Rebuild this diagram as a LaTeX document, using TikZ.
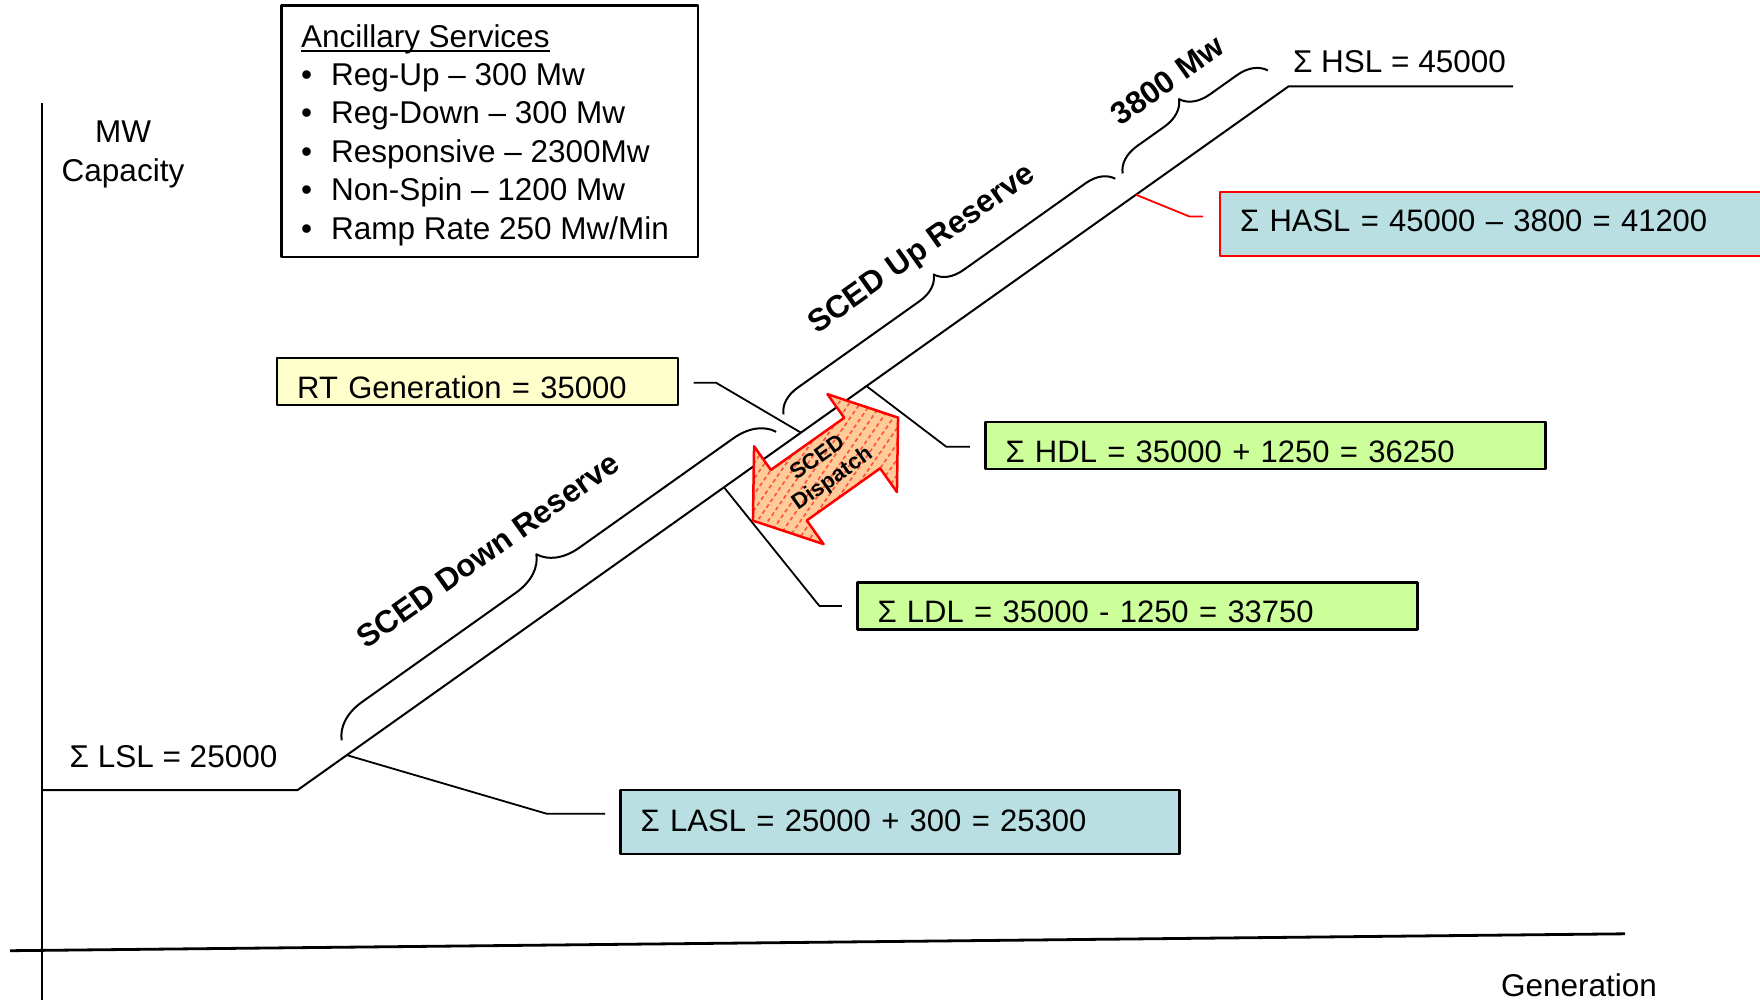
\documentclass[tikz,border=0pt]{standalone}
\usepackage{fontspec}
\setmainfont{Liberation Sans}
\usetikzlibrary{decorations.pathreplacing}
\definecolor{tealbox}{RGB}{185,223,226}
\definecolor{yelbox}{RGB}{255,255,204}
\definecolor{grnbox}{RGB}{204,255,153}
\definecolor{peach}{RGB}{255,204,153}
\newcommand\myul[1]{\setbox0\hbox{#1}\rlap{\rule[-4.5pt]{\wd0}{2pt}}\box0}
\begin{document}
\begin{tikzpicture}[x=1pt,y=-1pt,line join=round,
  every node/.style={inner sep=0pt,outer sep=0pt},
  txt/.style={font=\fontsize{31.5}{38.4}\selectfont},
  bld/.style={font=\fontsize{31.5}{38.4}\selectfont\bfseries},
  box/.style={draw,line width=2.5pt,anchor=north west,inner xsep=20pt,inner ysep=0pt,align=left,font=\fontsize{31}{38.4}\selectfont},
  ln/.style={line width=2pt},
  ldr/.style={line width=1.8pt},
  brc/.style={line width=2pt,decorate}]
\useasboundingbox (0,0) rectangle (1760,1000);

% axes
\coordinate (ytop) at (41.5,103);
\coordinate (ybot) at (41.5,1000);
\draw[ln] (ytop) -- (ybot);
\coordinate (xl) at (10,950.7);
\coordinate (xr) at (1625,933.8);
\draw[line width=2.8pt] (xl) -- (xr);
\node[txt,align=center] (mw) at (123,154.5) {MW\\Capacity};
\node[txt] (gen) at (1579,985) {Generation};

% ancillary services box
\node[draw,line width=2.5pt,anchor=north west,minimum width=416.4pt,minimum height=251.4pt] (anc) at (281.7,5.6) {};
\node[txt,anchor=base west] (anctxt) at (301,47.2) {\begin{tabular}[t]{@{}l@{\hspace{19pt}}l@{}}
\multicolumn{2}{@{}l@{}}{\myul{Ancillary Services}}\\
•& Reg-Up – 300 Mw\\
•& Reg-Down – 300 Mw\\
•& Responsive – 2300Mw\\
•& Non-Spin – 1200 Mw\\
•& Ramp Rate 250 Mw/Min
\end{tabular}};

% supply curve
\coordinate (s0) at (41.5,790.2);
\coordinate (s1) at (297.4,790.2);
\coordinate (s2) at (1288.5,86.4);
\coordinate (s3) at (1513,86.4);
\draw[ln] (s0) -- (s1) -- (s2) -- (s3);
\node[txt,anchor=west] (lsl) at (69.6,756.5) {Σ LSL = 25000};
\node[txt,anchor=west] (hsl) at (1293,61.7) {Σ HSL = 45000};

% frame along the sloped line
\begin{scope}[shift={(s1)},rotate=35.38]
  \coordinate (pLASL) at (60.6,0);
  \coordinate (pLDL) at (523.2,0);
  \coordinate (pRT) at (617.6,0);
  \coordinate (pHDL) at (698,0);
  \coordinate (pHASL) at (1028.5,0);
  \coordinate (ac) at (616.5,44);
  \draw[brc,decoration={brace,amplitude=39pt}] (65,-15) -- (598,-15);
  \draw[brc,decoration={brace,amplitude=27pt}] (614,-25) -- (1021,-25);
  \draw[brc,decoration={brace,amplitude=28pt}] (1030,-25) -- (1208,-25);
  \node[bld,rotate=35.38] (tdown) at (294.5,-85.4) {SCED Down Reserve};
  \node[bld,rotate=35.38] (tup) at (822.4,-78.5) {SCED Up Reserve};
  \node[bld,rotate=35.38] (t3800) at (1120.6,-75.2) {3800 Mw};
\end{scope}

% boxes
\node[box,fill=tealbox,text width=518.9pt,minimum height=63.9pt,text height=22pt,text depth=3pt] (lasl) at (620.7,790.2) {Σ LASL = 25000 + 300 = 25300};
\node[box,fill=yelbox,text width=360.8pt,minimum height=47.2pt,text height=33.4pt,text depth=0pt] (rt) at (277.2,358) {RT Generation = 35000};
\node[box,fill=grnbox,text width=520pt,minimum height=47.2pt,text height=32.8pt,text depth=0pt] (hdl) at (985.5,422) {Σ HDL = 35000 + 1250 = 36250};
\node[box,fill=grnbox,text width=520pt,minimum height=47.2pt,text height=33pt,text depth=0pt] (ldl) at (857.5,582.5) {Σ LDL = 35000 - 1250 = 33750};
\node[box,draw=red,fill=tealbox,text width=515pt,minimum height=64pt,text height=22pt,text depth=6pt] (hasl) at (1220,192) {Σ HASL = 45000 – 3800 = 41200};

% leaders
\coordinate (kLASL) at (546.6,813.7);
\coordinate (jLASL) at (605,813.7);
\draw[ldr] (pLASL) -- (kLASL) -- (jLASL);
\coordinate (kLDL) at (819.4,606);
\coordinate (jLDL) at (841.8,606);
\draw[ldr] (pLDL) -- (kLDL) -- (jLDL);
\coordinate (jRT) at (693.6,382.7);
\coordinate (kRT) at (716,382.7);
\draw[ldr] (jRT) -- (kRT) -- (pRT);
\coordinate (kHDL) at (946.2,446.7);
\coordinate (jHDL) at (969.8,446.7);
\draw[ldr] (pHDL) -- (kHDL) -- (jHDL);
\coordinate (kHASL) at (1189.7,216.6);
\coordinate (jHASL) at (1203,216.6);
\draw[ldr,red] (pHASL) -- (kHASL) -- (jHASL);

% SCED dispatch double arrow
\begin{scope}[shift={(ac)},rotate=35.38]
  \fill[peach] (-89,0) -- (-45,-60) -- (-45,-31) -- (45,-31) -- (45,-60) -- (89,0) -- (45,60) -- (45,31) -- (-45,31) -- (-45,60) -- cycle;
  \begin{scope}
    \clip (-89,0) -- (-45,-60) -- (-45,-31) -- (45,-31) -- (45,-60) -- (89,0) -- (45,60) -- (45,31) -- (-45,31) -- (-45,60) -- cycle;
    \foreach \k in {-10,...,10}
      \draw[red,opacity=0.6,line width=1.6pt,dash pattern=on 4pt off 3pt] (\k*26-160*0.94,160*0.342) -- (\k*26+160*0.94,-160*0.342);
  \end{scope}
  \draw[red,line width=2.5pt] (-89,0) -- (-45,-60) -- (-45,-31) -- (45,-31) -- (45,-60) -- (89,0) -- (45,60) -- (45,31) -- (-45,31) -- (-45,60) -- cycle;
\end{scope}
\node[font=\fontsize{22}{25.7}\selectfont\bfseries,align=center,rotate=35.38] (sd) at (ac) {SCED\\Dispatch};
\end{tikzpicture}
\end{document}
